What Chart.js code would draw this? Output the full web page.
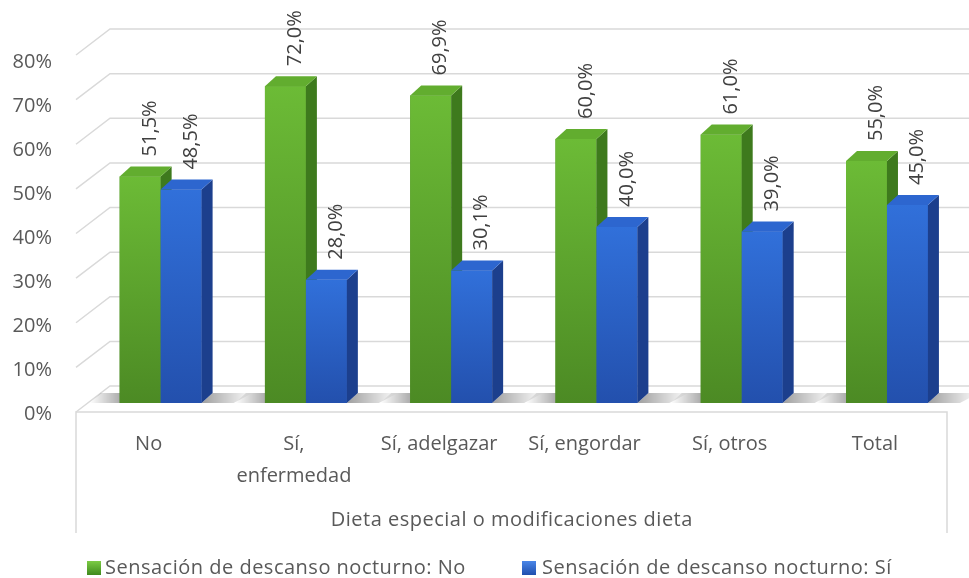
<!DOCTYPE html>
<html><head><meta charset="utf-8">
<script src="https://cdn.jsdelivr.net/npm/chart.js@4"></script>
<style>html,body{margin:0;padding:0;background:#fff}</style>
</head><body>
<canvas id="c" width="969" height="578" style="display:block;width:969px;height:578px"></canvas>
<script>
const categories = ["No", ["Sí,", "enfermedad"], "Sí, adelgazar", "Sí, engordar", "Sí, otros", "Total"];
const seriesNames = ["Sensación de descanso nocturno: No", "Sensación de descanso nocturno: Sí"];
const valuesNo = [51.5, 72.0, 69.9, 60.0, 61.0, 55.0];
const valuesSi = [48.5, 28.0, 30.1, 40.0, 39.0, 45.0];
const yMin = 0, yMax = 80, yStep = 10;
const axisTitle = "Dieta especial o modificaciones dieta";

const FONT = "'Open Sans', sans-serif";
const palette = [
  {front: ['#6cbb36', '#4c8a24'], side: '#3e7a1d', top: '#62ad2f', legend: ['#7ccb45', '#3f8a1d']},
  {front: ['#3170da', '#2350ad'], side: '#1c3f8d', top: '#2d66cf', legend: ['#4a86e8', '#1f4fae']}
];
const DX = 11, DY = 10;

const plugin3d = {
  id: 'excel3d',
  beforeDatasetsDraw(chart) {
    const ctx = chart.ctx, y = chart.scales.y, area = chart.chartArea;
    ctx.save();
    ctx.strokeStyle = '#d9d9d9';
    ctx.lineWidth = 1.5;
    const wallLeft = area.left + 22, frontLeft = area.left - 12, right = chart.width;
    for (let v = yMin; v <= yMax; v += yStep) {
      const back = y.getPixelForValue(v) - 17 - (v - yMin) / (yMax - yMin) * 5;
      ctx.beginPath();
      ctx.moveTo(frontLeft, back + 26);
      ctx.lineTo(wallLeft, back);
      ctx.lineTo(right, back);
      ctx.stroke();
      if (v === yMin) {
        const fy = back + 26, fr = area.right - 12.6;
        ctx.beginPath();
        ctx.moveTo(frontLeft, 533);
        ctx.lineTo(frontLeft, fy);
        ctx.lineTo(fr, fy);
        ctx.lineTo(fr, 533);
        ctx.stroke();
      }
    }
    // floor shadows
    const m0 = chart.getDatasetMeta(0), m1 = chart.getDatasetMeta(chart.data.datasets.length - 1);
    m0.data.forEach((el, i) => {
      const L = el.x - el.width / 2, B = el.base;
      let g = ctx.createLinearGradient(L - 30, 0, L, 0);
      g.addColorStop(0, 'rgba(0,0,0,0)'); g.addColorStop(1, 'rgba(0,0,0,0.32)');
      ctx.fillStyle = g;
      ctx.beginPath();
      ctx.moveTo(L - 30, B); ctx.lineTo(L - 30 + DX, B - DY); ctx.lineTo(L + DX, B - DY); ctx.lineTo(L, B);
      ctx.closePath(); ctx.fill();
      const el1 = m1.data[i];
      const R = el1.x + el1.width / 2;
      g = ctx.createLinearGradient(R, 0, R + DX + 40, 0);
      g.addColorStop(0, 'rgba(0,0,0,0.38)'); g.addColorStop(1, 'rgba(0,0,0,0)');
      ctx.fillStyle = g;
      ctx.beginPath();
      ctx.moveTo(R, B); ctx.lineTo(R + DX, B - DY); ctx.lineTo(R + DX + 40, B - DY); ctx.lineTo(R + 32, B);
      ctx.closePath(); ctx.fill();
    });
    ctx.restore();
  },
  afterDatasetsDraw(chart) {
    const ctx = chart.ctx;
    const n = chart.data.labels.length;
    ctx.save();
    for (let i = 0; i < n; i++) {
      chart.data.datasets.forEach((ds, k) => {
        const el = chart.getDatasetMeta(k).data[i];
        const p = palette[k];
        const L = el.x - el.width / 2, R = el.x + el.width / 2, T = el.y, B = el.base;
        let g = ctx.createLinearGradient(0, T, 0, B);
        g.addColorStop(0, p.front[0]); g.addColorStop(1, p.front[1]);
        ctx.fillStyle = g;
        ctx.fillRect(L, T, R - L, B - T);
        ctx.fillStyle = p.side;
        ctx.beginPath();
        ctx.moveTo(R, T); ctx.lineTo(R + DX, T - DY); ctx.lineTo(R + DX, B - DY); ctx.lineTo(R, B);
        ctx.closePath(); ctx.fill();
        ctx.fillStyle = p.top;
        ctx.beginPath();
        ctx.moveTo(L, T); ctx.lineTo(L + DX, T - DY); ctx.lineTo(R + DX, T - DY); ctx.lineTo(R, T);
        ctx.closePath(); ctx.fill();
      });
    }
    // data labels
    ctx.fillStyle = '#404040';
    ctx.font = '20px ' + FONT;
    ctx.textAlign = 'left';
    ctx.textBaseline = 'middle';
    chart.data.datasets.forEach((ds, k) => {
      chart.getDatasetMeta(k).data.forEach((el, i) => {
        const txt = ds.data[i].toFixed(1).replace('.', ',') + '%';
        ctx.save();
        ctx.translate(el.x + 10, el.y - 20);
        ctx.rotate(-Math.PI / 2);
        ctx.fillText(txt, 0, 0);
        ctx.restore();
      });
    });
    ctx.restore();
  },
  afterDraw(chart) {
    const ctx = chart.ctx, x = chart.scales.x;
    ctx.save();
    ctx.fillStyle = '#595959';
    ctx.font = '20px ' + FONT;
    ctx.letterSpacing = '0.5px';
    ctx.textBaseline = 'middle';
    ctx.textAlign = 'center';
    ctx.fillText(axisTitle, (x.left + x.right) / 2 - 12, 520);
    // legend
    ctx.textAlign = 'left';
    const items = [{mx: 87, tx: 105}, {mx: 522, tx: 542}];
    chart.data.datasets.forEach((ds, k) => {
      const it = items[k], p = palette[k];
      const g = ctx.createLinearGradient(0, 561, 0, 575);
      g.addColorStop(0, p.legend[0]); g.addColorStop(1, p.legend[1]);
      ctx.fillStyle = g;
      ctx.fillRect(it.mx, 561, 14, 14);
      ctx.fillStyle = '#595959';
      ctx.fillText(ds.label, it.tx, 568);
    });
    ctx.restore();
  }
};

new Chart(document.getElementById('c'), {
  type: 'bar',
  data: {
    labels: categories,
    datasets: [
      {label: seriesNames[0], data: valuesNo, backgroundColor: palette[0].front[1]},
      {label: seriesNames[1], data: valuesSi, backgroundColor: palette[1].front[1]}
    ]
  },
  options: {
    responsive: false,
    devicePixelRatio: 1,
    animation: false,
    categoryPercentage: 0.564,
    barPercentage: 1.0,
    layout: {padding: {top: 51, right: 9.4, left: 0, bottom: 0}},
    plugins: {legend: {display: false}, tooltip: {enabled: false}},
    scales: {
      x: {
        grid: {display: false, drawTicks: false},
        border: {display: false},
        ticks: {
          font: {family: FONT, size: 20, lineHeight: 1.6},
          color: '#595959', padding: 25, labelOffset: -12,
          maxRotation: 0, minRotation: 0, autoSkip: false
        },
        afterFit(s) { s.height = 175; }
      },
      y: {
        min: yMin, max: yMax,
        grid: {display: false, drawTicks: false},
        border: {display: false},
        ticks: {
          stepSize: yStep,
          font: {family: FONT, size: 20},
          color: '#595959', padding: 36, labelOffset: 11,
          callback: v => v + '%'
        },
        afterFit(s) { s.width = 88; }
      }
    }
  },
  plugins: [plugin3d]
});
</script>
</body></html>
